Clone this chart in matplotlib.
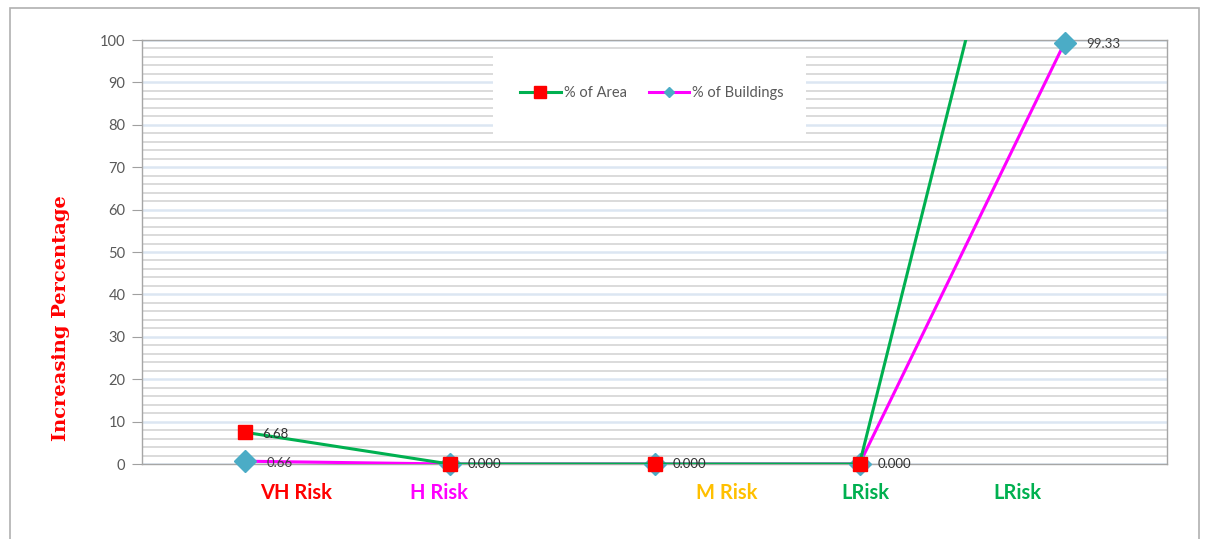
import matplotlib.pyplot as plt
from matplotlib.patches import Rectangle
from matplotlib.lines import Line2D
from matplotlib.ticker import MultipleLocator

categories = ["VH Risk", "H Risk", "M Risk", "LRisk", "LRisk"]
cat_colors = ["#ff0000", "#ff00ff", "#ffc000", "#00b050", "#00b050"]
# where the category text boxes sit (in category units)
cat_label_x = [0.75, 1.45, 2.85, 3.53, 4.27]

area = [7.5, 0, 0, 0, 193]
buildings = [0.66, 0, 0, 0, 99.33]
area_labels = ["6.68", "0.000", "0.000", "0.000", ""]
building_labels = ["0.66", "", "", "", "99.33"]

plt.rcParams['font.family'] = ['Lato', 'DejaVu Sans']

fig = plt.figure(figsize=(12.05, 5.39), dpi=100)
fig.patches.append(Rectangle((10 / 1205, -0.01), 1189 / 1205, 1 - 8 / 539 + 0.01,
                             transform=fig.transFigure, fill=False,
                             edgecolor='#b0b0b0', lw=1.2))

ax = fig.add_axes([142 / 1205, 75 / 539, 1025 / 1205, 424 / 539])
x = [i + 0.5 for i in range(len(categories))]

# lines are clipped to the plot box, markers are not
ax.plot(x, buildings, color='#ff00ff', lw=2.2, zorder=3)
ax.plot(x, buildings, ls='none', marker='D', ms=11,
        mfc='#4bacc6', mec='#4bacc6', zorder=3, clip_on=False)
ax.plot(x, area, color='#00b050', lw=2.2, zorder=4)
ax.plot(x[:4], area[:4], ls='none', marker='s', ms=9.5,
        mfc='#ff0000', mec='#ff0000', zorder=5, clip_on=False)

for xi, yi, t in zip(x, area, area_labels):
    if t:
        ax.annotate(t, (xi, yi), xytext=(13, 0 if yi == 0 else -1),
                    textcoords='offset points', fontsize=9.5, color='#303030',
                    va='center', zorder=6, annotation_clip=False)
for xi, yi, t in zip(x, buildings, building_labels):
    if t:
        ax.annotate(t, (xi, yi), xytext=(16, -1), textcoords='offset points',
                    fontsize=9.5, color='#404040', va='center', zorder=6,
                    annotation_clip=False)

ax.set_xlim(0, 5)
ax.set_ylim(0, 100)
ax.set_xticks([])
ax.yaxis.set_major_locator(MultipleLocator(10))
ax.yaxis.set_minor_locator(MultipleLocator(2))
ax.grid(which='minor', axis='y', color='#d4d4d4', lw=1.2, zorder=0)
ax.grid(which='major', axis='y', color='#dce6f2', lw=1.8, zorder=0)
ax.set_axisbelow(True)
ax.tick_params(axis='y', which='major', length=7, color='#a0a0a0',
               labelsize=10.5, labelcolor='#595959', pad=5)
ax.tick_params(axis='y', which='minor', length=0)
for s in ax.spines.values():
    s.set_color('#a6a6a6')
    s.set_linewidth(1.0)

for xl, t, c in zip(cat_label_x, categories, cat_colors):
    ax.text(xl, -0.068, t, transform=ax.get_xaxis_transform(), ha='center',
            va='center', fontsize=14.5, fontweight='bold', color=c)

ax.set_ylabel('Increasing Percentage', family='DejaVu Serif', fontweight='bold',
              fontsize=14, color='#ff0000')
ax.yaxis.set_label_coords(-0.07, 0.345)

# white box behind the legend
ax.add_patch(Rectangle((0.3424, 0.771), 0.3054, 0.194, transform=ax.transAxes,
                       facecolor='white', edgecolor='none', zorder=2))
handles = [
    Line2D([], [], color='#00b050', lw=2.2, marker='s', ms=8,
           mfc='#ff0000', mec='#ff0000'),
    Line2D([], [], color='#ff00ff', lw=2.2, marker='D', ms=5,
           mfc='#4bacc6', mec='#4bacc6'),
]
leg = ax.legend(handles, ['% of Area', '% of Buildings'], loc='center', ncol=2,
                bbox_to_anchor=(0.4976, 0.875), frameon=False, fontsize=10.5,
                handlelength=2.8, columnspacing=1.5, handletextpad=0.2)
for t in leg.get_texts():
    t.set_color('#595959')
leg.set_zorder(5)

fig.savefig('out.png', dpi=100)
